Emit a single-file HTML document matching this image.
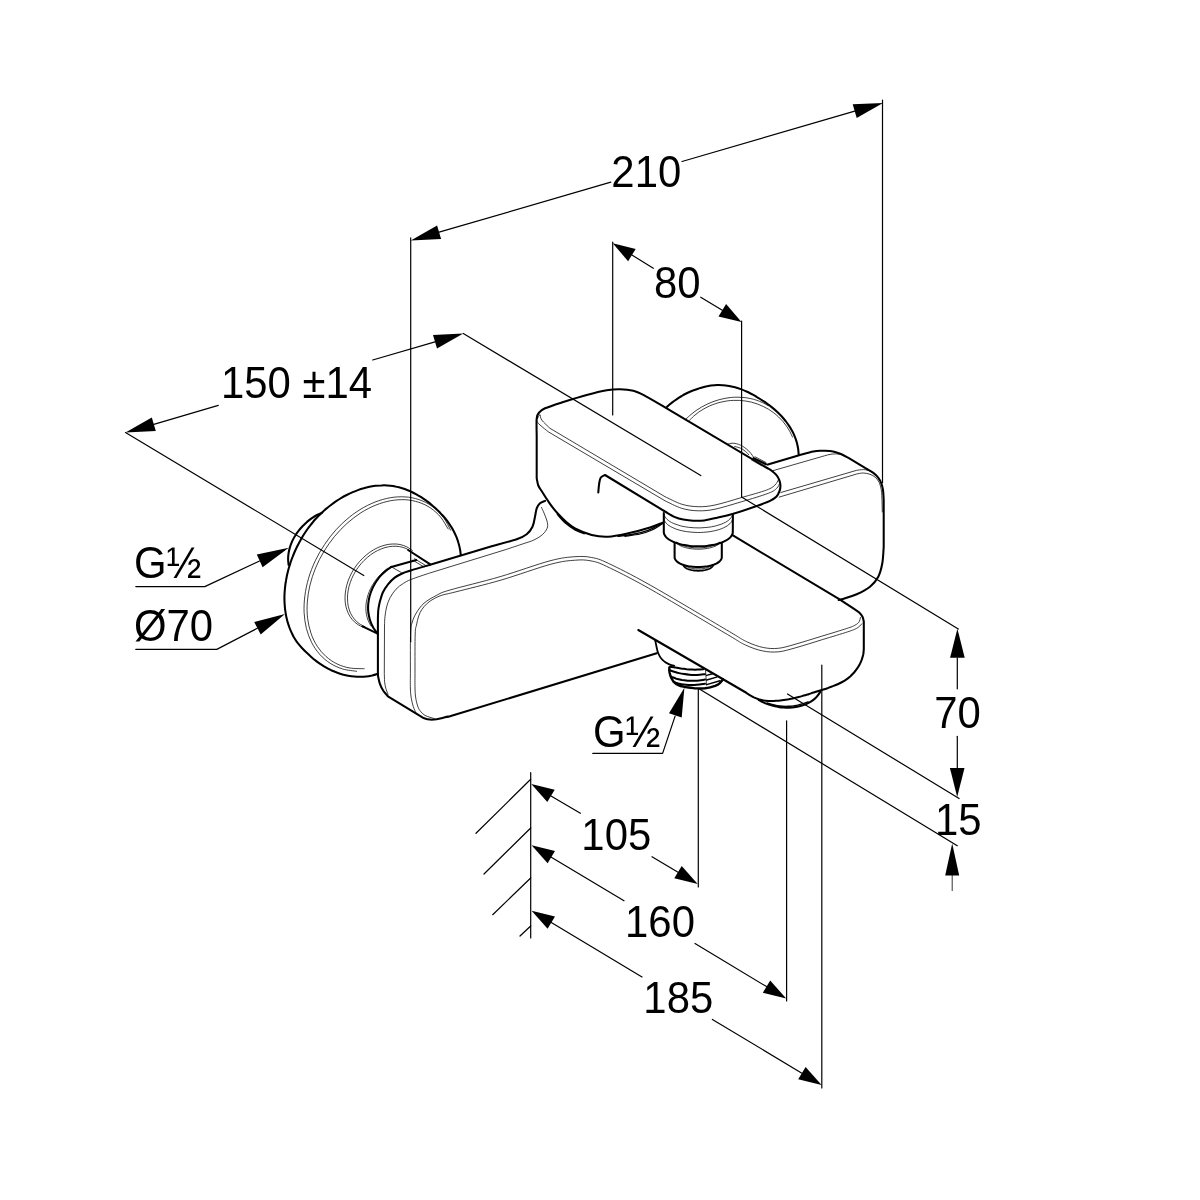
<!DOCTYPE html>
<html lang="en"><head><meta charset="utf-8"><title>Diagram</title>
<style>
html,body{margin:0;padding:0;background:#fff;}
body{width:1200px;height:1200px;overflow:hidden;font-family:"Liberation Sans",sans-serif;}
svg{display:block;will-change:transform}
svg path{fill:none;stroke:#000;stroke-linecap:round;stroke-linejoin:round}
svg text{font-family:"Liberation Sans",sans-serif;fill:#000;stroke:none}
</style></head><body>
<svg width="1200" height="1200" viewBox="0 0 1200 1200">
<rect x="0" y="0" width="1200" height="1200" fill="#fff"/>
<path d="M410.7 237.9L410.7 641.7" stroke-width="1.2"/>
<path d="M882.5 100L882.5 482.7" stroke-width="1.2"/>
<path d="M410.8 240.5L437.1 225.4L441.1 239.1Z" style="fill:#000;stroke:none"/>
<path d="M883 102.9L856.7 118L852.7 104.3Z" style="fill:#000;stroke:none"/>
<path d="M439.1 232.2L610.8 182.2" stroke-width="1.2"/>
<path d="M682 161.5L854.7 111.2" stroke-width="1.2"/>
<text transform="translate(646.3 186.9) scale(1 1.075)" font-size="41.9" text-anchor="middle" >210</text>
<path d="M125.5 432.6L151.8 417.5L155.8 431.1Z" style="fill:#000;stroke:none"/>
<path d="M463.3 333.5L437 348.6L433 335Z" style="fill:#000;stroke:none"/>
<path d="M153.8 424.3L218.3 405.4" stroke-width="1.2"/>
<path d="M372.7 360L435 341.8" stroke-width="1.2"/>
<text transform="translate(221 398.3) scale(1 1.075)" font-size="41.9" text-anchor="start" >150 ±14</text>
<path d="M125.5 432.6L363.8 575.5" stroke-width="1.2"/>
<path d="M463.3 333.5L700.8 475.6" stroke-width="1.2"/>
<path d="M612.7 242L612.7 415" stroke-width="1.2"/>
<path d="M741.6 321L741.6 497" stroke-width="1.2"/>
<path d="M612.7 243.3L635.7 248.9L628.1 261.2Z" style="fill:#000;stroke:none"/>
<path d="M741.5 322L718.5 316.4L726.1 304.1Z" style="fill:#000;stroke:none"/>
<path d="M631.9 255L653.3 268.3" stroke-width="1.2"/>
<path d="M700.7 297.2L722.3 310.3" stroke-width="1.2"/>
<text transform="translate(677.2 298.3) scale(1 1.075)" font-size="41.9" text-anchor="middle" >80</text>
<path d="M741.6 497L958.3 629" stroke-width="1.2"/>
<path d="M957.4 628.8L964.7 657.8L950.1 657.8Z" style="fill:#000;stroke:none"/>
<path d="M957.2 796.9L949.9 767.9L964.5 767.9Z" style="fill:#000;stroke:none"/>
<path d="M957.3 657.8L957.3 688.8" stroke-width="1.2"/>
<path d="M957.3 736.3L957.3 767.9" stroke-width="1.2"/>
<text transform="translate(957.5 727.5) scale(1 1.075)" font-size="41.9" text-anchor="middle" >70</text>
<text transform="translate(958.2 835) scale(1 1.075)" font-size="41.9" text-anchor="middle" >15</text>
<path d="M952.2 843.4L959.2 875.4L945.2 875.4Z" style="fill:#000;stroke:none"/>
<path d="M952.2 875.4L952.2 890.6" stroke-width="0.8"/>
<path d="M787.5 694L959.1 798.5" stroke-width="1.2"/>
<path d="M698.6 688.5L957.3 845.7" stroke-width="1.2"/>
<path d="M530.7 772.7L530.7 938" stroke-width="1.2"/>
<path d="M530.7 779.3L476 833.3" stroke-width="1.2"/>
<path d="M530.7 828L484 874" stroke-width="1.2"/>
<path d="M530.7 878L492.7 914.7" stroke-width="1.2"/>
<path d="M530.7 926L520 936" stroke-width="1.2"/>
<path d="M698.3 689L698.3 887" stroke-width="1.2"/>
<path d="M531.3 784L554.7 789.7L547.3 802Z" style="fill:#000;stroke:none"/>
<path d="M697.7 884L674.3 878.3L681.7 866Z" style="fill:#000;stroke:none"/>
<path d="M551 795.9L580.4 813.3" stroke-width="1.2"/>
<path d="M652 856.7L678 872.2" stroke-width="1.2"/>
<text transform="translate(616.3 849.6) scale(1 1.075)" font-size="41.9" text-anchor="middle" >105</text>
<path d="M786.6 720.8L786.6 1001" stroke-width="1.2"/>
<path d="M531.6 845.3L555 851L547.6 863.3Z" style="fill:#000;stroke:none"/>
<path d="M786.2 998.5L762.8 992.8L770.2 980.5Z" style="fill:#000;stroke:none"/>
<path d="M551.3 857.2L624 900.8" stroke-width="1.2"/>
<path d="M695 943.5L766.5 986.6" stroke-width="1.2"/>
<text transform="translate(660 936.5) scale(1 1.075)" font-size="41.9" text-anchor="middle" >160</text>
<path d="M821.8 665L821.8 1088" stroke-width="1.2"/>
<path d="M531.6 910.7L555 916.4L547.6 928.7Z" style="fill:#000;stroke:none"/>
<path d="M821.6 1085L798.2 1079.3L805.6 1067Z" style="fill:#000;stroke:none"/>
<path d="M551.3 922.5L642 977" stroke-width="1.2"/>
<path d="M712.4 1019.4L801.9 1073.2" stroke-width="1.2"/>
<text transform="translate(678.3 1013.2) scale(1 1.075)" font-size="41.9" text-anchor="middle" >185</text>
<text transform="translate(134 578.3) scale(1 1.075)" font-size="41.9" text-anchor="start" >G½</text>
<path d="M135.8 586.6L204.8 586.6L259.5 561" stroke-width="1.2" />
<path d="M288.8 547.7L262.6 567.3L256.8 554.6Z" style="fill:#000;stroke:none"/>
<text transform="translate(134 641) scale(1 1.075)" font-size="41.9" text-anchor="start" >Ø70</text>
<path d="M135.8 649.4L216.8 649.4L257.3 628.3" stroke-width="1.2" />
<path d="M285 614L260.7 634.4L254.2 622Z" style="fill:#000;stroke:none"/>
<text transform="translate(593 746.8) scale(1 1.075)" font-size="41.9" text-anchor="start" >G½</text>
<path d="M592.8 753.4L662.6 753.4L675.1 716.1" stroke-width="1.2" />
<path d="M684.4 687.8L681.7 717.4L669 713.3Z" style="fill:#000;stroke:none"/>
<path d="M378.1 673.7C377.2 674 374.2 674.9 372.2 675.4C370.2 675.8 368.2 676.2 366.2 676.4C364.2 676.6 362.2 676.7 360.2 676.8C358.2 676.8 356.2 676.7 354.2 676.5C352.2 676.4 350.2 676.1 348.2 675.7C346.3 675.4 344.3 674.9 342.4 674.4C340.5 673.9 338.6 673.2 336.7 672.5C334.8 671.8 333 671 331.1 670.2C329.3 669.3 327.5 668.4 325.8 667.4C324 666.4 322.3 665.3 320.6 664.2C319 663 317.3 661.9 315.7 660.6C314.1 659.4 312.5 658.1 311 656.7C309.5 655.4 308 654 306.5 652.6C305 651.2 303.6 649.8 302.2 648.3C300.8 646.8 299.5 645.3 298.2 643.7C297 642.2 295.8 640.5 294.8 638.8C293.7 637.1 292.8 635.3 292 633.5C291.1 631.7 290.3 629.9 289.6 628C288.9 626.2 288.3 624.3 287.7 622.4C287.2 620.5 286.7 618.6 286.3 616.7C285.9 614.7 285.6 612.8 285.3 610.8C285 608.8 284.8 606.8 284.7 604.9C284.5 602.9 284.5 600.9 284.4 598.9C284.4 596.9 284.5 594.8 284.6 592.8C284.7 590.8 284.9 588.8 285.1 586.8C285.3 584.8 285.6 582.8 286 580.7C286.3 578.7 286.7 576.7 287.1 574.7C287.6 572.8 288.1 570.8 288.6 568.8C289.2 566.8 289.8 564.9 290.4 562.9C291.1 561 291.7 559.1 292.5 557.2C293.2 555.3 294 553.4 294.8 551.5C295.6 549.7 296.5 547.8 297.4 546C298.3 544.2 299.2 542.4 300.2 540.7C301.2 538.9 302.2 537.2 303.2 535.5C304.3 533.8 305.4 532.1 306.5 530.5C307.7 528.8 308.9 527.2 310.1 525.7C311.3 524.1 312.5 522.5 313.8 521C315.1 519.5 316.5 518.1 317.8 516.6C319.2 515.2 320.6 513.8 322.1 512.4C323.5 511 325 509.7 326.6 508.4C328.1 507.1 329.7 505.9 331.3 504.7C332.9 503.5 334.5 502.3 336.2 501.2C337.9 500.1 339.6 499 341.4 497.9C343.1 496.9 344.9 495.9 346.7 495C348.5 494.1 350.4 493.2 352.2 492.4C354.1 491.6 356 490.8 357.9 490.1C359.8 489.4 361.7 488.8 363.7 488.3C365.6 487.7 367.6 487.2 369.5 486.8C371.5 486.4 373.4 486.1 375.4 485.8C377.4 485.6 379.4 485.4 381.3 485.4C383.3 485.3 385.3 485.3 387.3 485.4C389.2 485.5 391.2 485.7 393.2 486C395.1 486.4 397.1 486.8 399 487.3C400.9 487.8 402.8 488.4 404.7 489C406.6 489.7 408.5 490.5 410.4 491.3C412.2 492.2 414.1 493.1 415.9 494.1C417.7 495.1 419.4 496.1 421.2 497.2C422.9 498.3 424.6 499.5 426.3 500.7C428 502 429.6 503.2 431.2 504.5C432.8 505.8 434.3 507.2 435.8 508.6C437.3 510 438.8 511.4 440.2 512.8C441.5 514.3 442.9 515.7 444.2 517.2C445.5 518.7 446.7 520.3 447.9 521.8C449 523.4 450.1 525 451.1 526.7C452.2 528.3 453.1 530 454 531.7C454.9 533.5 455.7 535.3 456.5 537.1C457.2 538.9 457.9 540.8 458.4 542.8C459 544.7 459.5 546.7 459.9 548.8C460.3 550.8 460.7 554.1 460.8 555.1" stroke-width="2.05" />
<path d="M356.6 671.3C354.3 670.9 347 670.3 342.6 669C338.2 667.6 334 665.7 330.2 663.3C326.4 660.8 322.8 657.8 319.7 654.3C316.7 650.9 313.9 646.9 311.7 642.6C309.5 638.3 307.7 633.5 306.4 628.5C305.2 623.5 304.4 618.2 304.1 612.7C303.9 607.2 304.1 601.4 304.9 595.7C305.6 589.9 306.9 584 308.6 578.2C310.3 572.4 312.6 566.5 315.2 560.9C317.9 555.3 321 549.8 324.5 544.6C327.9 539.5 331.8 534.4 335.9 529.9C340 525.3 344.5 521.1 349.2 517.3C353.8 513.6 358.7 510.2 363.6 507.5C368.6 504.7 373.7 502.4 378.8 500.7C383.8 499 389 497.8 394 497.2C398.9 496.6 403.9 496.7 408.6 497.2C413.3 497.8 417.9 499 422.1 500.8C426.3 502.5 430.3 504.8 433.9 507.6C437.5 510.4 440.7 513.8 443.5 517.6C446.3 521.3 449.5 528.1 450.6 530.2" stroke-width="0.75" />
<path d="M364.2 668.7C361.9 668.6 354.6 668.8 350 668C345.5 667.3 341.2 665.9 337.2 664C333.2 662.1 329.4 659.5 326.1 656.6C322.7 653.6 319.7 650.1 317.2 646.2C314.7 642.4 312.6 638 311 633.3C309.4 628.7 308.3 623.6 307.6 618.4C307 613.2 306.9 607.7 307.3 602.1C307.7 596.5 308.6 590.7 310 585C311.4 579.3 313.3 573.5 315.6 567.9C317.9 562.3 320.8 556.7 323.9 551.5C327.1 546.2 330.7 541.1 334.6 536.4C338.4 531.7 342.7 527.3 347.1 523.3C351.5 519.4 356.3 515.8 361 512.7C365.8 509.7 370.8 507.1 375.8 505.1C380.7 503.1 385.8 501.6 390.7 500.7C395.7 499.8 400.6 499.5 405.3 499.7C410 500 414.6 500.9 418.8 502.3C423.1 503.7 427.2 505.7 430.8 508.2C434.4 510.7 437.8 513.7 440.7 517.2C443.6 520.7 446.9 527.1 448.2 529" stroke-width="0.75" />
<path d="M322.4 512.5C321.5 512.9 318.8 514 317 515C315.3 515.9 313.6 517 311.9 518.1C310.2 519.3 308.6 520.6 307 521.9C305.5 523.2 304 524.7 302.5 526.2C301.1 527.7 299.8 529.2 298.5 530.9C297.2 532.5 296.1 534.2 295 536C293.9 537.7 293 539.6 292.1 541.4C291.3 543.3 290.6 545.2 290 547.1C289.4 549 288.9 551 288.6 553C288.3 554.9 288.1 556.9 288.1 558.9C288.1 561 288.5 564 288.6 565" stroke-width="2.05" />
<path d="M363.2 627.3C362.2 626.8 358.9 625.4 357.1 624C355.2 622.7 353.5 621.1 352 619.3C350.5 617.5 349.2 615.4 348.2 613.2C347.2 611 346.4 608.5 345.8 606C345.3 603.5 345 600.8 345 598.1C345 595.3 345.3 592.5 345.8 589.6C346.3 586.8 347 583.9 348 581.1C349 578.3 350.3 575.4 351.7 572.8C353.2 570.1 354.9 567.4 356.7 565C358.6 562.5 360.6 560.2 362.8 558.1C365 556 367.3 554 369.7 552.3C372.1 550.6 374.7 549.1 377.2 547.9C379.8 546.7 382.4 545.8 385 545.1C387.5 544.4 390.2 544.1 392.7 544C395.2 543.9 397.7 544 400 544.5C402.3 545 404.6 545.8 406.7 546.8C408.8 547.8 411.5 550 412.4 550.6" stroke-width="0.75" />
<path d="M365 626.7C364 626.2 360.9 624.8 359.1 623.6C357.4 622.3 355.7 620.8 354.3 619C352.9 617.3 351.6 615.4 350.6 613.3C349.6 611.2 348.9 608.8 348.3 606.4C347.8 604 347.5 601.5 347.5 598.9C347.4 596.3 347.6 593.5 348.1 590.8C348.5 588.1 349.2 585.4 350.2 582.7C351.1 580 352.2 577.3 353.6 574.7C354.9 572.1 356.5 569.6 358.3 567.2C360 564.8 361.9 562.6 364 560.5C366 558.5 368.3 556.5 370.5 554.9C372.8 553.2 375.2 551.7 377.6 550.5C380.1 549.3 382.6 548.3 385 547.6C387.5 546.9 390 546.5 392.4 546.3C394.8 546.1 397.2 546.2 399.5 546.6C401.8 547 404 547.6 406 548.5C408 549.4 410.7 551.4 411.7 551.9" stroke-width="0.75" />
<path d="M362.5 626.3L378.1 633.8" stroke-width="2.05"/>
<path d="M391.3 566.9C390.5 567.5 387.8 569.2 386.1 570.6C384.5 571.9 382.9 573.4 381.5 574.9C380 576.4 378.6 578.1 377.4 579.8C376.2 581.6 375 583.4 374 585.3C373 587.1 372.1 589.1 371.3 591C370.6 593 369.9 595.1 369.4 597.1C368.9 599.2 368.6 601.2 368.3 603.3C368.1 605.4 368 607.5 368.1 609.6C368.2 611.7 368.5 613.8 368.9 615.8C369.3 617.9 369.8 619.9 370.6 621.9C371.3 623.8 372.2 625.8 373.3 627.7C374.4 629.5 376.6 632.2 377.2 633.1" stroke-width="2.05" />
<path d="M388 568C387.2 568.7 384.8 570.4 383.4 571.7C381.9 573 380.5 574.4 379.1 575.9C377.8 577.4 376.5 579 375.3 580.7C374.1 582.3 373 584.1 372 585.8C371 587.6 370.1 589.5 369.4 591.3C368.6 593.2 367.9 595.1 367.4 597.1C366.9 599 366.5 601 366.2 602.9C366 604.9 365.8 606.9 365.9 608.9C365.9 610.8 366.1 612.8 366.5 614.7C366.9 616.7 367.4 618.6 368.2 620.5C368.9 622.4 370.5 625.1 371 626.1" stroke-width="0.75" />
<path d="M391.3 566.9L416.3 560" stroke-width="2.05"/>
<path d="M408.1 550L430.3 564.4" stroke-width="2.05"/>
<path d="M414.5 558.7L427 566.3" stroke-width="0.75"/>
<path d="M413 560.3L424 567" stroke-width="0.75"/>
<path d="M392.5 567.5L401.3 572.5" stroke-width="0.75"/>
<path d="M656.7 653.3L450 716.3C449.2 716.5 447.2 716.8 445 717.3C442.8 717.8 439.2 718.8 436.7 719.2C434.2 719.6 432.1 719.8 430 719.6C427.9 719.5 425.9 718.9 424.2 718.3C422.5 717.7 420.7 716.2 420 715.8L388.3 696.7C387.5 695.7 384.7 692.9 383.3 690.8C381.9 688.7 380.8 686.4 380 684.2C379.2 682 378.7 679.3 378.3 677.5C377.9 675.7 378 674 377.9 673.3L377.9 618C378 616.7 378 612.5 378.3 610C378.6 607.5 378.9 605.6 379.6 602.7C380.4 599.8 381.4 595.6 382.8 592.5C384.2 589.4 386 586.8 388 584.3C390 581.8 392.2 579.5 394.7 577.6C397.1 575.8 400 574.4 402.7 573.2C405.4 572 406.3 571.9 410.7 570.5C415.1 569.1 426.2 565.9 429.3 565L491.7 546.3C495.9 545.1 510.9 541.2 516.7 539.2C522.5 537.2 524.1 536.3 526.7 534.2C529.3 532.1 531.1 529.6 532.5 526.7C533.9 523.8 534.3 519.8 535 516.7C535.7 513.6 535.9 510.5 536.7 508.3C537.5 506.1 538.6 504.6 540 503.3C541.4 502.1 544.2 501.2 545 500.8" stroke-width="2.05" />
<path d="M388 694.3C387.6 693.3 386.4 690.4 385.8 688.3C385.2 686.2 384.9 684.2 384.6 681.7C384.4 679.2 384.4 674.7 384.3 673.3L384.5 625C384.6 623.6 384.6 619.5 385 616.5C385.4 613.5 385.8 610.1 386.6 607C387.4 603.9 388.4 600.8 390 597.8C391.6 594.8 393.8 591.6 396 589.2C398.2 586.8 400.8 585 403.4 583.4C406 581.8 407 581 411.4 579.3C415.8 577.6 426.7 574 429.8 573L506.7 549.3C509.6 548.3 519.6 545 524 543.5C528.4 542 530.6 541.5 533.3 540.3C536 539.1 538.1 537.8 540 536.5C541.9 535.2 543.2 534.1 544.5 532.5C545.8 530.9 547.1 528.9 547.5 527C547.9 525.1 547.6 523.3 547 521C546.4 518.7 544.9 515.2 544 513C543.1 510.8 541.9 508.4 541.5 507.5" stroke-width="0.75" />
<path d="M415.8 712.5C415.4 711.5 414.1 709.1 413.3 706.7C412.6 704.3 411.8 701.4 411.3 698.3C410.8 695.2 410.5 692.7 410.4 688C410.2 683.3 410.4 679.3 410.4 670C410.4 660.7 410.3 640 410.6 632C410.9 624 411.4 625.2 412.3 622C413.2 618.8 414.4 616.1 416.3 613C418.2 609.9 420.6 606.2 424 603.2C427.4 600.2 432.4 597.5 436.7 595.3C441 593.1 439.4 593.1 450 590C460.6 586.9 483.3 581.6 500 576.7C516.7 571.8 537.5 564.1 550 560.8C562.5 557.5 568 557.2 575 556.7C582 556.2 586.2 556.4 591.7 557.5C597.2 558.6 598.6 558.7 608.3 563.3C618 567.9 630.3 573.9 650 585C669.7 596.1 710.6 620.5 726.7 630C742.8 639.5 740.6 638.8 746.7 641.7C752.8 644.6 758 646.4 763.3 647.5C768.6 648.6 773 648.8 778.3 648.3C783.6 647.8 787.8 646.3 795 644.3C802.2 642.3 813.1 638.8 821.7 636.2C830.3 633.6 841.2 630.3 846.7 628.5C852.2 626.7 852.9 626.3 855 625.2C857.1 624.1 858.3 623 859.2 621.7C860.1 620.4 860.2 618.2 860.4 617.5" stroke-width="0.75" />
<path d="M434 718.5C433.3 718.3 431.5 717.8 430 717.3C428.5 716.8 426.5 716.3 425 715.4C423.5 714.5 422 713.2 420.8 711.7C419.6 710.2 418.7 708.9 417.9 706.7C417.1 704.5 416.3 701.4 415.8 698.3C415.3 695.2 415.1 692.7 415 688C414.9 683.3 415 679 415 670C415 661 414.9 641.5 415.2 634C415.4 626.5 415.9 628 416.5 625C417.1 622 417.8 618.6 418.7 616C419.6 613.4 420.6 611.4 422 609.3C423.4 607.2 425.3 605.1 427.3 603.3C429.3 601.5 431.4 600.1 434 598.7C436.6 597.3 439 596.1 442.7 595C446.4 593.9 446.3 594.3 456 591.8C465.7 589.3 485.2 584.7 501 580.1C516.8 575.5 538.5 567.5 550.9 564.2C563.3 560.9 568.6 560.7 575.3 560.2C582 559.6 585.8 559.9 591 560.9C596.3 562 597.3 561.9 606.8 566.5C616.4 571 628.6 577 648.3 588C668 599.1 708.8 623.6 724.9 633C741.1 642.5 738.9 641.9 745.2 644.9C751.5 647.8 757 649.8 762.6 650.9C768.2 652.1 773.1 652.3 778.7 651.8C784.2 651.2 788.6 649.7 795.9 647.7C803.3 645.6 814.1 642.2 822.7 639.5C831.4 636.9 842.1 633.7 847.8 631.8C853.5 629.9 854.3 629.6 856.7 628.3C859.1 626.9 861.2 624.5 862.1 623.7" stroke-width="0.75" />
<path d="M655.1 640C655.3 640.7 655.7 642.8 656 644.2C656.3 645.6 656.5 647.1 656.9 648.5C657.2 650 657.5 651.4 658.1 652.8C658.6 654.1 659.1 655.4 659.9 656.6C660.6 657.8 661.5 658.9 662.5 659.9C663.5 660.9 664.7 661.9 665.9 662.6C667.1 663.4 668.5 664.1 669.9 664.6C671.3 665.1 673.5 665.6 674.3 665.8" stroke-width="1.8" />
<path d="M669.3 667.5C669.3 668.3 669.3 671 669.6 672.8C670 674.5 670.5 676.4 671.3 678C672.1 679.6 673.1 681.2 674.3 682.3C675.5 683.5 676.9 684.4 678.4 685.1C679.9 685.8 681.6 686.3 683.4 686.7C685.1 687.1 686.9 687.3 688.7 687.5C690.5 687.8 692.4 688 694.2 688.2C696 688.3 697.9 688.4 699.7 688.4C701.5 688.5 703.3 688.4 705 688.3C706.8 688.1 708.5 687.8 710.2 687.4C711.9 687 713.5 686.5 715.1 685.9C716.7 685.2 718.3 684.4 719.6 683.3C721 682.2 722.5 680 723.1 679.3" stroke-width="2.4" />
<path d="M670 666.7C670.9 666.8 673.7 667.3 675.5 667.6C677.3 667.9 679.2 668.2 681 668.5C682.9 668.7 684.7 669 686.6 669.2C688.4 669.3 690.3 669.5 692.1 669.6C694 669.7 695.9 669.7 697.7 669.6C699.6 669.6 702.4 669.3 703.3 669.2" stroke-width="2.0" />
<path d="M669.2 670C670 670.3 672.5 671.2 674.1 671.7C675.8 672.2 677.4 672.7 679.1 673.1C680.8 673.5 682.5 673.8 684.3 674.1C686 674.4 687.7 674.6 689.4 674.7C691.2 674.9 692.9 675 694.6 675C696.4 675 698.1 674.9 699.8 674.8C701.6 674.7 704.1 674.3 705 674.2" stroke-width="2.0" />
<path d="M670.8 676.7C671.7 677 674.4 678.1 676.3 678.7C678.1 679.2 680 679.6 681.9 680C683.8 680.3 685.7 680.5 687.7 680.7C689.6 680.8 691.5 680.8 693.5 680.8C695.4 680.7 697.4 680.6 699.3 680.4C701.2 680.2 704 679.7 705 679.6" stroke-width="2.0" />
<path d="M673.3 681.7C674.1 682 676.7 683 678.4 683.5C680.1 683.9 681.9 684.3 683.6 684.5C685.4 684.8 687.2 684.9 689 685C690.8 685 692.6 685 694.3 684.9C696.1 684.9 697.9 684.7 699.7 684.5C701.5 684.3 704.1 683.9 705 683.8" stroke-width="2.0" />
<path d="M706.7 675.4L712.5 673.8" stroke-width="1.5"/>
<path d="M706.7 680L716.7 677.1" stroke-width="1.5"/>
<path d="M706.7 684.6L720 680.8" stroke-width="1.5"/>
<path d="M705.5 669.5L706.5 685" stroke-width="0.75"/>
<path d="M758.8 700C759.5 700.4 761.7 701.7 763.3 702.4C764.8 703.1 766.4 703.7 768.1 704.3C769.7 704.9 771.4 705.4 773.1 705.8C774.8 706.3 776.6 706.6 778.3 706.9C780.1 707.2 781.9 707.4 783.6 707.5C785.4 707.7 787.2 707.7 789 707.7C790.7 707.6 792.5 707.5 794.2 707.3C796 707 797.7 706.7 799.4 706.3C801.1 705.9 802.8 705.4 804.4 704.8C806.1 704.2 807.6 703.5 809.1 702.7C810.6 701.9 812.1 700.9 813.4 699.9C814.8 698.8 816 697.6 817.1 696.3C818.3 695 819.7 692.7 820.2 691.9" stroke-width="2.05" />
<path d="M767 703C767.8 703.3 770.3 704.1 772 704.5C773.7 705 775.4 705.3 777.2 705.6C778.9 705.9 780.6 706.1 782.4 706.2C784.1 706.3 785.9 706.4 787.6 706.3C789.4 706.3 791.1 706.2 792.9 706C794.6 705.7 796.3 705.5 798 705.1C799.7 704.7 801.4 704.2 803.1 703.7C804.8 703.1 807.2 702.1 808 701.8" stroke-width="1.4" />
<path d="M638.3 630L745 692C745.7 692.4 747.8 693.9 749.3 694.8C750.8 695.7 752.3 696.6 753.8 697.4C755.3 698.1 756.9 698.7 758.5 699.3C760.1 699.8 761.8 700.1 763.5 700.4C765.1 700.7 766.8 700.8 768.5 700.9C770.2 701 771.9 701 773.6 701C775.3 700.9 777 700.8 778.7 700.7C780.4 700.5 782.1 700.3 783.7 700.1C785.4 699.9 787.1 699.6 788.8 699.3C790.4 698.9 792.1 698.6 793.7 698.2C795.4 697.8 797.1 697.4 798.7 697C800.4 696.6 802 696.1 803.7 695.6C805.3 695.2 806.9 694.7 808.6 694.2C810.2 693.7 811.9 693.1 813.5 692.6C815.1 692.1 816.8 691.6 818.4 691C820 690.5 821.7 690 823.3 689.5C825 688.9 826.6 688.4 828.2 687.9C829.8 687.3 831.4 686.7 833 686.1C834.6 685.5 836.2 684.9 837.7 684.2C839.3 683.5 840.8 682.8 842.2 682C843.7 681.2 845.1 680.3 846.5 679.3C847.9 678.4 849.2 677.3 850.5 676.2C851.7 675 852.9 673.8 854.1 672.5C855.2 671.1 856.2 669.7 857.2 668.3C858.2 666.9 859.1 665.4 859.9 663.9C860.7 662.3 861.4 660.8 861.9 659.2C862.5 657.6 862.9 655.9 863.3 654.3C863.6 652.6 863.7 650.1 863.8 649.2L863.8 621.7C863.6 620.9 863.3 618.2 862.5 616.7C861.7 615.2 860.7 613.9 859.2 612.5C857.7 611.1 854.3 609 853.3 608.3L839.2 599.2L732.5 535.2" stroke-width="2.05" />
<path d="M598.3 492.5C598.4 491 598.8 485.8 599.2 483.3C599.6 480.8 599.8 478.9 600.8 477.5C601.8 476.1 604.3 475.4 605 475L665 511.5C666.7 512.4 672 515.8 675 517.1C678 518.5 680.2 519 683.3 519.6C686.3 520.2 689.8 520.7 693.3 520.8C696.8 520.9 700.3 520.9 704.2 520.4C708.1 519.9 711.9 519 716.7 517.9C721.6 516.8 726.6 515.8 733.3 513.8C740 511.8 750.6 508.2 756.7 506C762.8 503.8 766.7 502.4 770 500.8C773.3 499.2 774.7 498.4 776.3 496.7C777.9 495 778.9 492.8 779.6 490.8C780.3 488.9 780.5 486.8 780.4 485C780.3 483.2 779.9 481.6 779.2 480C778.6 478.4 777.7 476.7 776.5 475.2C775.3 473.7 773.4 472.1 772 471C770.6 469.9 768.7 468.9 768 468.5L666.7 408.3C663.1 406.2 650.6 398.7 645 395.8C639.4 392.9 637.5 391.9 633.3 390.8C629.1 389.7 624.4 389.3 620 389.2C615.6 389.1 612.2 389.3 606.7 390.3C601.2 391.3 594.2 393 586.7 395C579.2 397 568.7 400.3 561.7 402.5C554.8 404.7 548.8 406.6 545 408.3C541.2 410 540.6 410.8 539.2 412.5C537.8 414.2 537.1 414.3 536.7 418.3C536.3 422.3 536.7 433.6 536.7 436.7L536.7 478.3C537 479.5 537.5 483.5 538.3 485.5C539.1 487.5 539.3 487.4 541.3 490.5C543.2 493.6 547.3 500 550 503.8C552.7 507.6 554.8 510.3 557.5 513.3C560.2 516.3 563.4 519.5 566.3 522C569.2 524.5 570.8 526.3 575 528.5C579.2 530.7 586.2 533.6 591.7 535C597.2 536.4 602.2 537 608.3 536.7C614.4 536.4 621.3 534.8 628.3 533.3C635.2 531.8 644.2 529.3 650 527.5C655.8 525.7 661.1 523.3 663.3 522.5" stroke-width="2.05" />
<path d="M557.5 514.5C558.9 516 563.1 521 566 523.5C568.9 526 572 528.1 575 529.8C578 531.5 582.5 533 584 533.6" stroke-width="1.6" />
<path d="M618 536.2C620.5 535.9 628 535.3 633 534.3C638 533.3 643.1 532.1 648 530.3C652.9 528.5 660.1 524.5 662.5 523.3" stroke-width="1.4" />
<path d="M625 536.3C627.5 535.9 635.5 535 640 534C644.5 533 648.2 531.7 652 530C655.8 528.3 660.8 524.7 662.5 523.6" stroke-width="1.2" />
<path d="M537.3 419C537.8 418.3 539.3 414.4 540 414.6C540.7 414.8 540 417.7 541.7 420C543.4 422.3 548.6 426.9 550 428.3L665 496.7C667.8 497.9 676.2 502.5 681.7 504.2C687.2 505.9 692.8 506.6 698.3 506.7C703.8 506.8 707.8 506.5 715 505C722.2 503.5 733.1 500 741.7 497.5C750.3 495 761.2 492.1 766.7 490C772.2 487.9 773.1 486.7 775 485C776.9 483.3 777.8 480.8 778.3 480" stroke-width="0.75" />
<path d="M536.5 421C537.1 421.7 538 423.2 540 425C542 426.8 546.9 430.7 548.3 431.8L665 500.8C667.8 502.1 676.2 506.6 681.7 508.3C687.2 510 692.8 510.7 698.3 510.8C703.8 510.9 707.8 510.7 715 509.2C722.2 507.7 732.8 504.3 741.7 501.7C750.6 499.1 762.5 495.5 768.3 493.3C774.1 491.1 774.8 490 776.7 488.3C778.6 486.6 779.3 483.9 779.8 483" stroke-width="0.75" />
<path d="M663.8 513L663.8 531.8C663.8 532.2 663.9 533.4 664.2 534.2C664.5 535 665 535.8 665.6 536.5C666.2 537.3 667 538 667.9 538.7C668.8 539.4 669.9 540.1 671 540.7C672.2 541.3 673.5 541.9 674.9 542.5C676.3 543 677.8 543.5 679.4 543.9C681 544.4 682.7 544.8 684.4 545.1C686.2 545.4 688 545.7 689.8 545.9C691.7 546.1 693.6 546.2 695.4 546.3C697.3 546.3 699.3 546.3 701.2 546.3C703 546.2 704.9 546.1 706.8 545.9C708.6 545.7 710.4 545.4 712.2 545.1C713.9 544.8 715.6 544.4 717.2 543.9C718.8 543.5 720.3 543 721.7 542.5C723.1 541.9 724.4 541.3 725.6 540.7C726.7 540.1 727.8 539.4 728.7 538.7C729.6 538 730.4 537.3 731 536.5C731.6 535.8 732.1 535 732.4 534.2C732.7 533.4 732.8 532.2 732.8 531.8L732.9 515" stroke-width="2.05" />
<path d="M664.1 514.4C664.2 514.8 664.5 516.1 665 516.9C665.5 517.7 666.1 518.5 666.9 519.2C667.7 520 668.7 520.7 669.7 521.4C670.8 522.1 672.1 522.8 673.4 523.4C674.8 524 676.3 524.5 677.9 525C679.4 525.5 681.1 526 682.9 526.4C684.6 526.7 686.5 527 688.4 527.3C690.3 527.5 692.2 527.7 694.2 527.8C696.1 527.9 698.1 527.9 700.1 527.9C702 527.8 704 527.7 705.9 527.5C707.8 527.4 709.7 527.1 711.5 526.8C713.4 526.5 715.1 526.1 716.8 525.6C718.4 525.2 720 524.7 721.5 524.1C722.9 523.5 724.3 522.9 725.5 522.3C726.7 521.6 727.7 520.9 728.7 520.2C729.6 519.4 730.3 518.6 730.9 517.9C731.5 517.1 732 515.8 732.3 515.4" stroke-width="0.75" />
<path d="M663.9 518.5C664 518.9 664.2 520.1 664.6 520.9C665 521.7 665.6 522.5 666.3 523.3C667 524 667.8 524.8 668.8 525.5C669.8 526.2 671 526.8 672.2 527.4C673.5 528.1 674.9 528.6 676.3 529.2C677.8 529.7 679.4 530.2 681.1 530.6C682.8 531 684.5 531.3 686.3 531.6C688.2 531.9 690 532.1 691.9 532.2C693.8 532.4 695.8 532.5 697.7 532.5C699.6 532.5 701.6 532.5 703.5 532.3C705.4 532.2 707.3 532 709.1 531.8C710.9 531.5 712.7 531.2 714.4 530.8C716.1 530.4 717.8 530 719.3 529.5C720.8 529 722.3 528.4 723.6 527.8C724.9 527.2 726.1 526.6 727.2 525.9C728.2 525.2 729.1 524.5 729.9 523.7C730.6 523 731.3 522.2 731.7 521.4C732.2 520.6 732.5 519.4 732.6 519" stroke-width="0.75" />
<path d="M674.6 543.3L674.6 557.2C674.7 557.5 674.7 558.3 674.9 558.8C675.1 559.4 675.5 559.9 675.9 560.4C676.3 560.9 676.8 561.4 677.4 561.9C678.1 562.4 678.8 562.9 679.6 563.3C680.4 563.7 681.3 564.1 682.2 564.5C683.2 564.9 684.2 565.2 685.3 565.5C686.4 565.8 687.5 566 688.7 566.3C689.9 566.5 691.2 566.7 692.4 566.8C693.7 566.9 695 567 696.3 567.1C697.5 567.1 698.9 567.1 700.1 567.1C701.4 567 702.7 566.9 704 566.8C705.2 566.7 706.5 566.5 707.7 566.3C708.9 566 710 565.8 711.1 565.5C712.2 565.2 713.2 564.9 714.2 564.5C715.1 564.1 716 563.7 716.8 563.3C717.6 562.9 718.3 562.4 719 561.9C719.6 561.4 720.1 560.9 720.5 560.4C720.9 559.9 721.3 559.4 721.5 558.8C721.7 558.3 721.7 557.5 721.8 557.2L721.8 543.3" stroke-width="2.05" />
<path d="M676 542.7C676.3 542.9 677 543.7 677.6 544.1C678.3 544.6 679 545.1 679.8 545.5C680.6 545.9 681.5 546.3 682.4 546.7C683.4 547 684.4 547.3 685.5 547.6C686.5 547.9 687.7 548.2 688.9 548.4C690 548.6 691.3 548.8 692.5 548.9C693.7 549 695 549.1 696.3 549.2C697.6 549.2 698.8 549.2 700.1 549.2C701.4 549.1 702.7 549 703.9 548.9C705.1 548.8 706.4 548.6 707.5 548.4C708.7 548.2 709.9 547.9 710.9 547.6C712 547.3 713 547 714 546.7C714.9 546.3 715.8 545.9 716.6 545.5C717.4 545.1 718.1 544.6 718.8 544.1C719.4 543.7 720.1 542.9 720.4 542.7" stroke-width="0.75" />
<path d="M676.8 542.2C677.1 542.4 678 543.1 678.7 543.6C679.4 544 680.2 544.4 681.1 544.8C682 545.2 682.9 545.6 684 545.9C685 546.2 686.1 546.5 687.2 546.8C688.3 547 689.5 547.2 690.7 547.4C691.9 547.6 693.1 547.7 694.4 547.8C695.6 547.9 696.9 547.9 698.2 547.9C699.5 547.9 700.8 547.9 702 547.8C703.3 547.7 704.5 547.6 705.7 547.4C706.9 547.2 708.1 547 709.2 546.8C710.3 546.5 711.4 546.2 712.4 545.9C713.5 545.6 714.4 545.2 715.3 544.8C716.2 544.4 717 544 717.7 543.6C718.4 543.1 719.3 542.4 719.6 542.2" stroke-width="0.75" />
<path d="M683.6 565.8C683.8 566 684.1 566.5 684.4 566.8C684.7 567.2 685.1 567.5 685.5 567.8C686 568.1 686.5 568.4 687 568.7C687.6 568.9 688.2 569.2 688.9 569.4C689.5 569.6 690.2 569.8 691 570C691.7 570.2 692.5 570.3 693.3 570.4C694.1 570.6 694.9 570.6 695.8 570.7C696.6 570.8 697.5 570.8 698.3 570.8C699.1 570.8 700 570.8 700.8 570.7C701.7 570.6 702.5 570.6 703.3 570.4C704.1 570.3 704.9 570.2 705.6 570C706.4 569.8 707.1 569.6 707.7 569.4C708.4 569.2 709 568.9 709.6 568.7C710.1 568.4 710.6 568.1 711.1 567.8C711.5 567.5 711.9 567.2 712.2 566.8C712.5 566.5 712.8 566 713 565.8" stroke-width="1.7" />
<path d="M686 566C686.2 566.1 686.8 566.5 687.3 566.8C687.8 567 688.3 567.3 688.9 567.5C689.5 567.7 690.1 567.9 690.7 568.1C691.4 568.2 692 568.4 692.7 568.5C693.4 568.6 694.2 568.7 694.9 568.8C695.6 568.9 696.4 569 697.2 569C697.9 569 698.7 569 699.4 569C700.2 569 701 568.9 701.7 568.8C702.4 568.7 703.2 568.6 703.9 568.5C704.6 568.4 705.2 568.2 705.9 568.1C706.5 567.9 707.1 567.7 707.7 567.5C708.3 567.3 708.8 567 709.3 566.8C709.8 566.5 710.4 566.1 710.6 566" stroke-width="0.75" />
<path d="M667.1 406.8C667.8 406.1 670 404.1 671.6 402.9C673.2 401.6 674.8 400.4 676.5 399.3C678.2 398.1 680 397 681.8 396C683.5 394.9 685.4 393.9 687.2 393C689.1 392.1 691 391.2 692.9 390.5C694.9 389.7 696.8 389 698.8 388.4C700.8 387.7 702.8 387.2 704.8 386.7C706.8 386.3 708.8 385.9 710.9 385.6C712.9 385.4 714.9 385.2 717 385.1C719 385 721 385.1 723.1 385.2C725.1 385.3 727.1 385.6 729.1 385.9C731.1 386.3 733.1 386.7 735 387.2C737 387.7 738.9 388.4 740.8 389.1C742.7 389.8 744.6 390.6 746.5 391.5C748.3 392.3 750.1 393.3 752 394.2C753.8 395.2 755.6 396.2 757.3 397.3C759.1 398.3 760.9 399.4 762.6 400.6C764.4 401.7 766.1 402.9 767.7 404.1C769.4 405.3 771 406.6 772.6 407.9C774.2 409.2 775.8 410.6 777.3 412C778.8 413.4 780.2 414.8 781.6 416.3C783 417.8 784.3 419.4 785.6 421C786.8 422.6 788 424.2 789.1 425.9C790.2 427.6 791.3 429.3 792.2 431.1C793.2 432.9 794 434.7 794.8 436.6C795.6 438.5 796.2 440.4 796.8 442.4C797.3 444.4 797.8 446.4 798.1 448.5C798.4 450.5 798.6 453.7 798.7 454.8" stroke-width="2.05" />
<path d="M686.4 418.6C687.2 417.9 689.4 415.7 691.1 414.4C692.7 413 694.4 411.7 696.1 410.5C697.9 409.3 699.7 408.2 701.5 407.1C703.3 406.1 705.2 405.1 707.1 404.2C709.1 403.3 711 402.4 713 401.7C715 401 717 400.3 719.1 399.7C721.1 399.2 723.2 398.7 725.2 398.3C727.3 397.9 729.4 397.6 731.5 397.4C733.6 397.2 735.7 397.2 737.8 397.2C739.9 397.2 742 397.3 744.1 397.5C746.1 397.7 748.2 398.1 750.3 398.5C752.3 398.9 754.4 399.5 756.4 400.2C758.4 400.8 760.4 401.6 762.3 402.5C764.3 403.4 767.1 405.1 768.1 405.6" stroke-width="0.75" />
<path d="M689.3 420.5C690 419.8 692.2 417.5 693.7 416.1C695.3 414.7 696.9 413.4 698.6 412.2C700.3 411 702.1 409.9 703.9 408.8C705.7 407.8 707.5 406.9 709.4 406C711.3 405.2 713.2 404.4 715.2 403.8C717.1 403.1 719.1 402.5 721.1 402.1C723.1 401.6 725.1 401.2 727.2 400.9C729.2 400.6 731.3 400.5 733.3 400.4C735.4 400.3 737.4 400.3 739.5 400.4C741.5 400.5 743.6 400.7 745.6 401C747.6 401.3 749.6 401.7 751.6 402.2C753.6 402.7 755.6 403.3 757.5 404C759.4 404.7 761.3 405.5 763.1 406.4C765 407.3 766.8 408.3 768.6 409.3C770.3 410.4 772 411.6 773.7 412.8C775.3 414 776.9 415.4 778.4 416.8C779.9 418.2 781.3 419.7 782.7 421.2C784 422.8 785.3 424.4 786.5 426.1C787.7 427.8 788.8 429.6 789.8 431.4C790.8 433.3 792.1 436.2 792.5 437.1" stroke-width="0.75" />
<path d="M727.7 444.1C728.4 444 730.6 443.3 732 443.2C733.4 443.2 734.9 443.3 736.3 443.7C737.7 444 739.1 444.5 740.4 445.1C741.8 445.7 743.1 446.5 744.3 447.4C745.6 448.2 746.8 449.2 747.9 450.2C748.9 451.2 750 452.3 750.9 453.4C751.8 454.5 752.9 456.4 753.3 456.9" stroke-width="0.75" />
<path d="M734.7 446.5C735.4 446.7 737.5 447.1 738.8 447.5C740.1 448 741.3 448.5 742.5 449.2C743.6 449.9 744.7 450.7 745.8 451.6C746.8 452.5 748.2 454.2 748.7 454.7" stroke-width="0.75" />
<path d="M753.6 458.2L766 464.3" stroke-width="2.2" />
<path d="M751.5 460L762 466" stroke-width="0.75" />
<path d="M755 456.8L766 462.5" stroke-width="0.75" />
<path d="M767.9 464.6L798.3 455.4C800.8 454.8 809.4 452.4 813.3 451.6C817.2 450.8 818.9 450.9 821.7 450.8C824.5 450.7 827.5 450.7 830 451C832.5 451.3 834.7 451.9 836.7 452.5C838.7 453.1 839.9 453.5 842 454.5C844.1 455.5 848.1 457.8 849.3 458.4L866.7 468.8C867.8 469.5 871.4 471.4 873.3 472.8C875.2 474.2 876.7 475.6 878 477.4C879.3 479.1 880.5 481.2 881.3 483.3C882.1 485.4 882.6 487.2 883 490C883.4 492.8 883.6 498.3 883.7 500L883.7 546.7C883.5 549.5 883.2 558.3 882.3 563.3C881.4 568.3 880.3 572.8 878.3 576.7C876.2 580.6 873.6 583.8 870 586.7C866.4 589.6 861.4 592.1 856.7 594.2C852 596.3 844.7 598.2 841.7 599.2C838.7 600.2 839.2 599.9 838.7 600" stroke-width="2.05" />
<path d="M772.5 470.8L820 457.1C821.7 456.7 827.2 454.9 830 454.4C832.8 453.9 834.9 453.9 836.7 453.9C838.5 453.9 840.3 454.5 841 454.6" stroke-width="0.75" />
<path d="M780.8 492.5L856.7 470.3C857.8 470.2 861.4 469.6 863.3 469.6C865.2 469.6 866.6 469.9 868 470.3C869.4 470.7 870.9 471.6 871.5 471.8" stroke-width="0.75" />
<path d="M779.2 497.1L856.7 474C857.8 473.8 861.1 472.9 863.3 473C865.5 473.1 868 473.6 870 474.3C872 475 873.8 475.9 875.3 477.3C876.8 478.7 878.3 480.6 879.3 482.7C880.3 484.8 880.8 487.1 881.3 490C881.8 492.9 881.9 498.3 882 500L882.3 512" stroke-width="0.75" />
</svg>
</body></html>
